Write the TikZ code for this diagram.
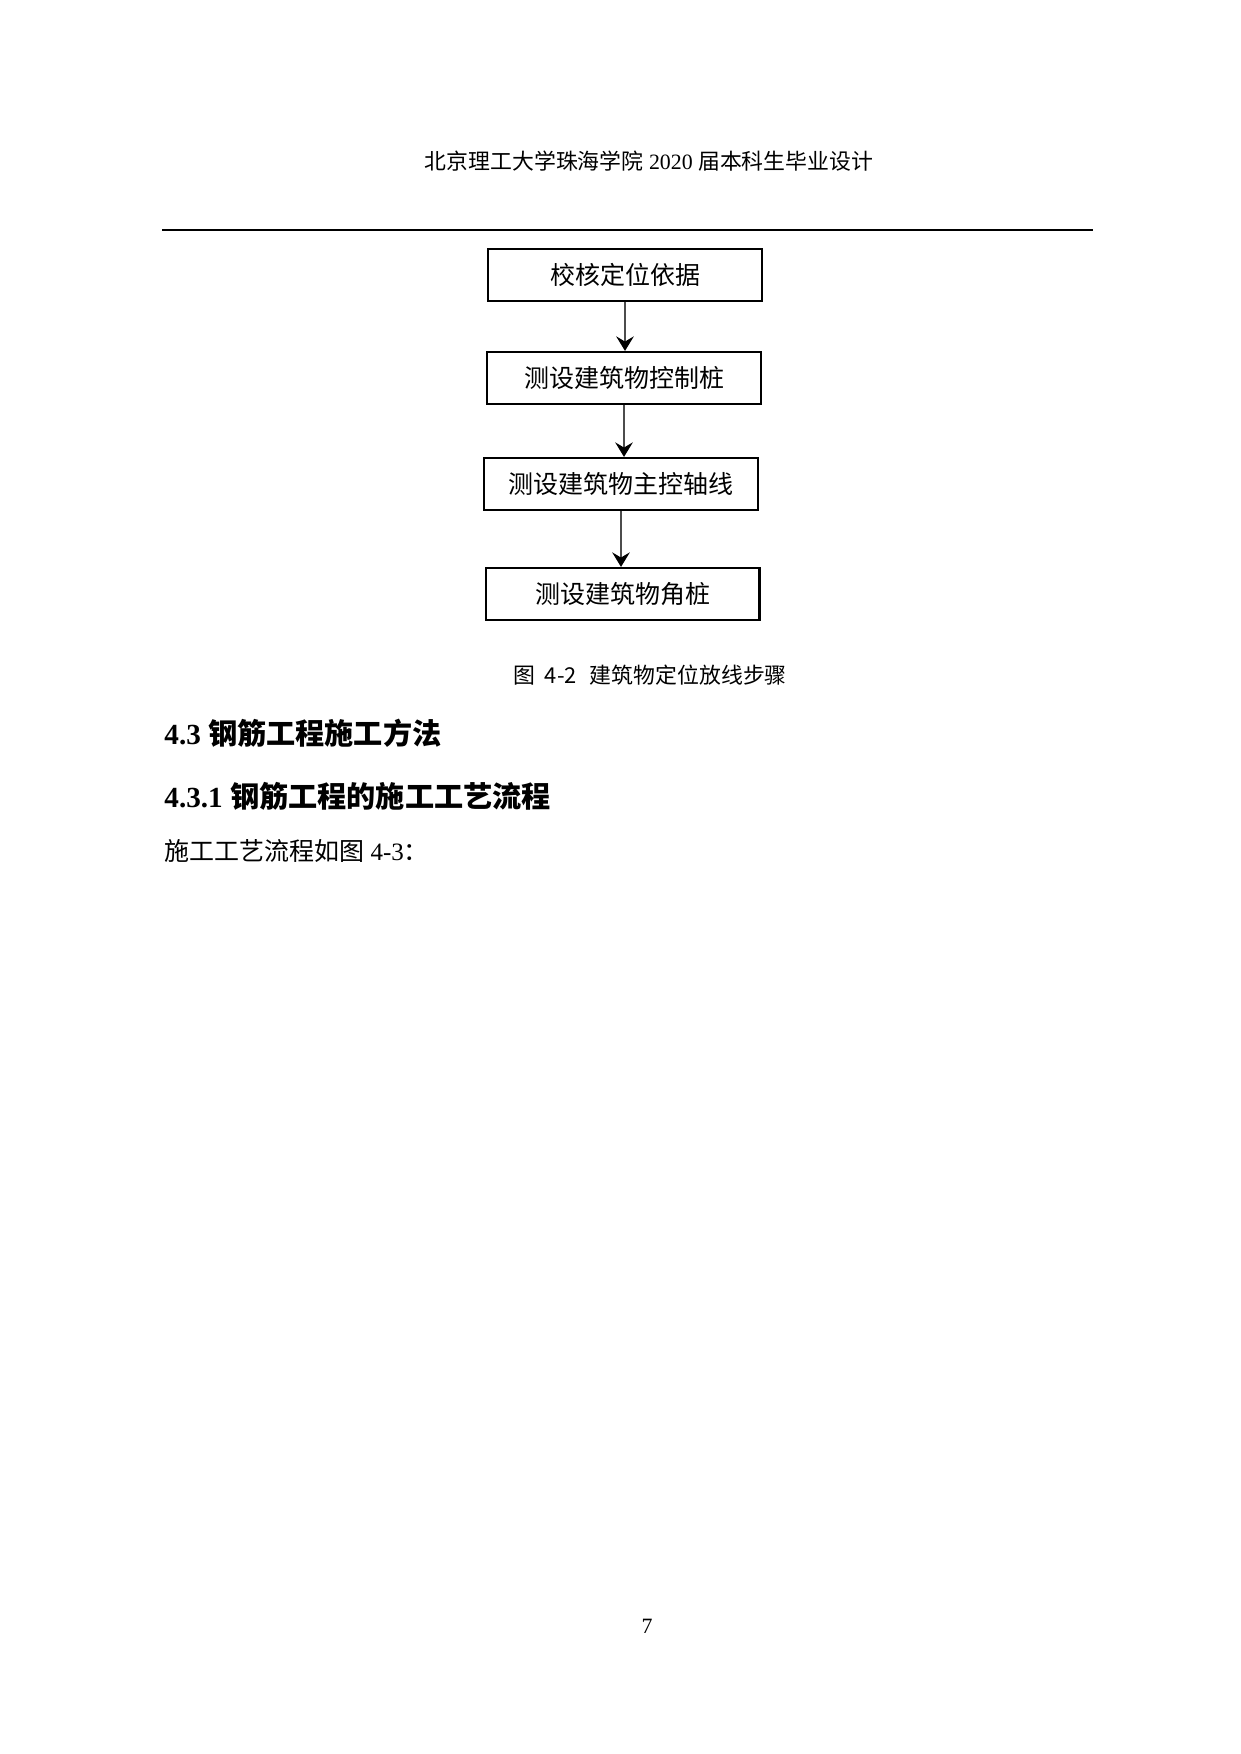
\documentclass[tikz,border=0pt]{standalone}
\usepackage{fontspec}
\setmainfont{Liberation Serif}
\newfontfamily\cjk{Noto Sans CJK SC}
\usetikzlibrary{arrows.meta}
\tikzset{
  stepbox/.style={draw=black, line width=1pt, minimum width=131.5pt, minimum height=25pt,
    inner sep=0pt, font=\cjk\fontsize{12}{14}\selectfont},
  flowarrow/.style={draw=black!70, line width=0.6pt,
    -{Stealth[length=7pt,width=8.5pt,inset=2.5pt,fill=black,color=black]}},
  txt/.style={inner sep=0pt},
}
\begin{document}
\begin{tikzpicture}[x=0.480061pt,y=-0.480061pt]
\useasboundingbox (0,0) rectangle (1240,1754);
\fill[white] (0,0) rectangle (1240,1754);

% running header
\node[txt, anchor=base, font=\fontsize{10.5}{12}\selectfont] (hdr) at (649,170)
  {{\cjk 北京理工大学珠海学院} 2020 {\cjk 届本科生毕业设计}};
\coordinate (rl) at (162,230);
\coordinate (rr) at (1093,230);
\draw[line width=1pt] (rl) -- (rr);

% flow chart
\node[stepbox] (b1) at (625,275) {校核定位依据};
\node[stepbox] (b2) at (624,378) {测设建筑物控制桩};
\node[stepbox] (b3) at (621,484) {测设建筑物主控轴线};
\node[stepbox] (b4) at (622.5,594) {测设建筑物角桩};

\draw[flowarrow] (b1.south) -- (b1.south |- b2.north);
\draw[flowarrow] (b2.south) -- (b2.south |- b3.north);
\draw[flowarrow] (b3.south) -- (b3.south |- b4.north);

% caption
\node[txt, anchor=base, font=\cjk\fontsize{10.5}{12}\selectfont] (cap) at (650,683)
  {图\hspace{0.45em}4-2\hspace{0.6em}建筑物定位放线步骤};

% headings
\node[txt, anchor=base west, font=\fontsize{14}{16}\selectfont\bfseries] (h1) at (164,744)
  {4.3 {\cjk\bfseries 钢筋工程施工方法}};
\node[txt, anchor=base west, font=\fontsize{14}{16}\selectfont\bfseries] (h2) at (164,807)
  {4.3.1 {\cjk\bfseries 钢筋工程的施工工艺流程}};

% body text
\node[txt, anchor=base west, font=\fontsize{12}{14}\selectfont] (body) at (164,860)
  {{\cjk 施工工艺流程如图} 4-3{\cjk ：}};

% page number
\node[txt, anchor=base, font=\fontsize{10.5}{12}\selectfont] (pg) at (647,1633) {7};
\end{tikzpicture}
\end{document}
